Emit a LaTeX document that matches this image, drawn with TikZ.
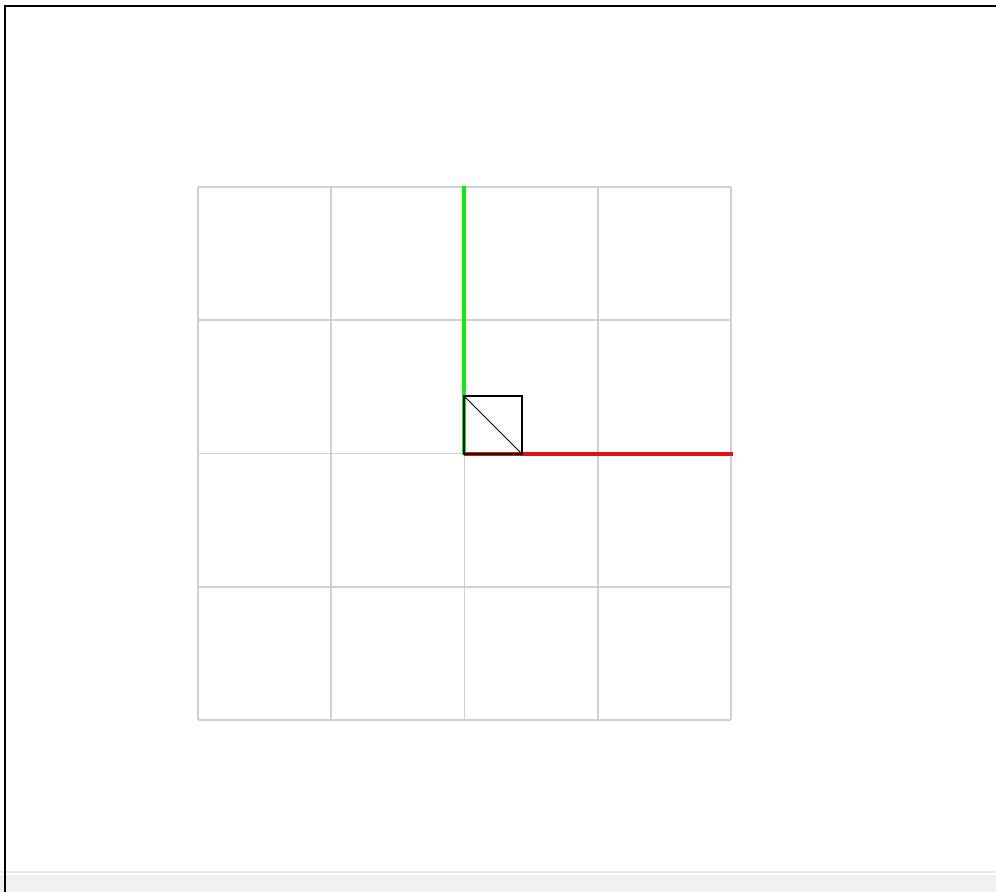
\documentclass[tikz,border=0pt]{standalone}
\usetikzlibrary{positioning}
\definecolor{axisred}{RGB}{225,18,18}
\definecolor{axisgreen}{RGB}{16,232,16}
\definecolor{gridgray}{RGB}{208,208,208}
\definecolor{barfill}{RGB}{240,240,240}
\tikzset{
    gridline/.style={draw=gridgray, line width=1.3pt},
    axisX/.style={draw=axisred, line width=3.4pt},
    axisY/.style={draw=axisgreen, line width=3.4pt},
    frameline/.style={draw=black, line width=1.6pt}
}

\begin{document}
\begin{tikzpicture}[
    x=0.75pt, y=-0.75pt,
    % hop vuong don vi o goc toa do
    unitbox/.style={
        rectangle, draw=black, line width=1pt,
        minimum size=58*0.75pt, inner sep=0pt, outer sep=0pt
    }
]

    % 1. KHUNG VA NEN
    \fill[white] (0,0) rectangle (996,892);
    \useasboundingbox (0,0) rectangle (996,892);
    \fill[barfill] (0,875) rectangle (996,892);
    \draw[draw=black!9, line width=1pt] (0,872) -- (996,872);
    \draw[frameline] (5,892) -- (5,6) -- (996,6);

    % 2. LUOI 4x4
    \foreach \i in {0,...,4}{
        \draw[gridline] (198+133.25*\i,187) -- (198+133.25*\i,720);
        \draw[gridline] (198,187+133.25*\i) -- (731,187+133.25*\i);
    }

    % 3. TRUC TOA DO
    \coordinate (O) at (464,454);
    \coordinate (xend) at (733,454);
    \coordinate (yend) at (464,186);
    \draw[axisX] (O) -- (xend);
    \draw[axisY] (O) -- (yend);

    % 4. HOP DON VI VA DUONG CHEO
    \node[unitbox, anchor=south west] (box) at (O) {};
    \draw[black, line width=0.6pt] (box.north west) -- (box.south east);

\end{tikzpicture}
\end{document}
